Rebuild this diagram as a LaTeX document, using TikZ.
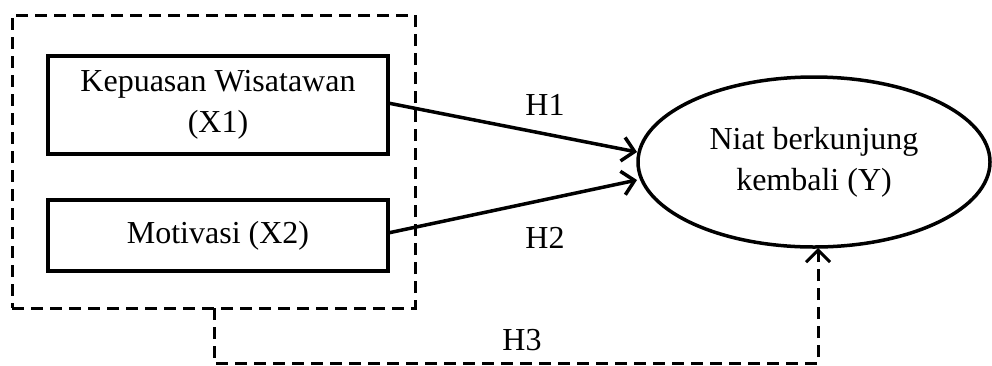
\documentclass[tikz,border=0pt]{standalone}
\usepackage{fontspec}
\setmainfont{Liberation Serif}
\usetikzlibrary{arrows.meta,shapes.geometric}
\begin{document}
\begin{tikzpicture}[x=1pt,y=-1pt,
  every node/.style={font=\fontsize{32}{41}\selectfont},
  varbox/.style={draw,line width=4pt,minimum width=340pt,inner sep=0pt,align=center},
  groupbox/.style={draw,line width=3pt,dash pattern=on 12pt off 7pt},
  effect/.style={line width=3.5pt,-{Straight Barb[length=12pt,width=24pt,line width=3.5pt]}},
  indirect/.style={line width=3pt,dash pattern=on 12pt off 7pt,
    -{Straight Barb[length=12pt,width=24pt,line width=3pt]}}]
\useasboundingbox (0,0) rectangle (992,365);
% grouping frame around both predictors
\node[groupbox,minimum width=403pt,minimum height=293pt,inner sep=0pt] (grp) at (213.5,161.5) {};
% predictors
\node[varbox,minimum height=98pt] (x1) at (218,105) {Kepuasan Wisatawan\\(X1)};
\node[varbox,minimum height=71pt] (x2) at (218,235.5) {Motivasi (X2)};
% outcome
\node[draw,ellipse,line width=3.5pt,minimum width=352pt,minimum height=170pt,inner sep=0pt,align=center] (y) at (814,162) {Niat berkunjung\\kembali (Y)};
% connector end points
\coordinate (x1out) at (388,103);
\coordinate (x2out) at (388,233);
\coordinate (yin1) at (637,152);
\coordinate (yin2) at (637,180);
\coordinate (grpout) at (214,308);
\coordinate (yin3) at (818,248);
\draw[effect] (x1out) -- (yin1);
\draw[effect] (x2out) -- (yin2);
\draw[indirect] (grpout) -- (214,363) -- (818,363) -- (yin3);
% hypothesis labels
\node (h1) at (545,105) {H1};
\node (h2) at (545,238) {H2};
\node (h3) at (522,340) {H3};
\end{tikzpicture}
\end{document}
